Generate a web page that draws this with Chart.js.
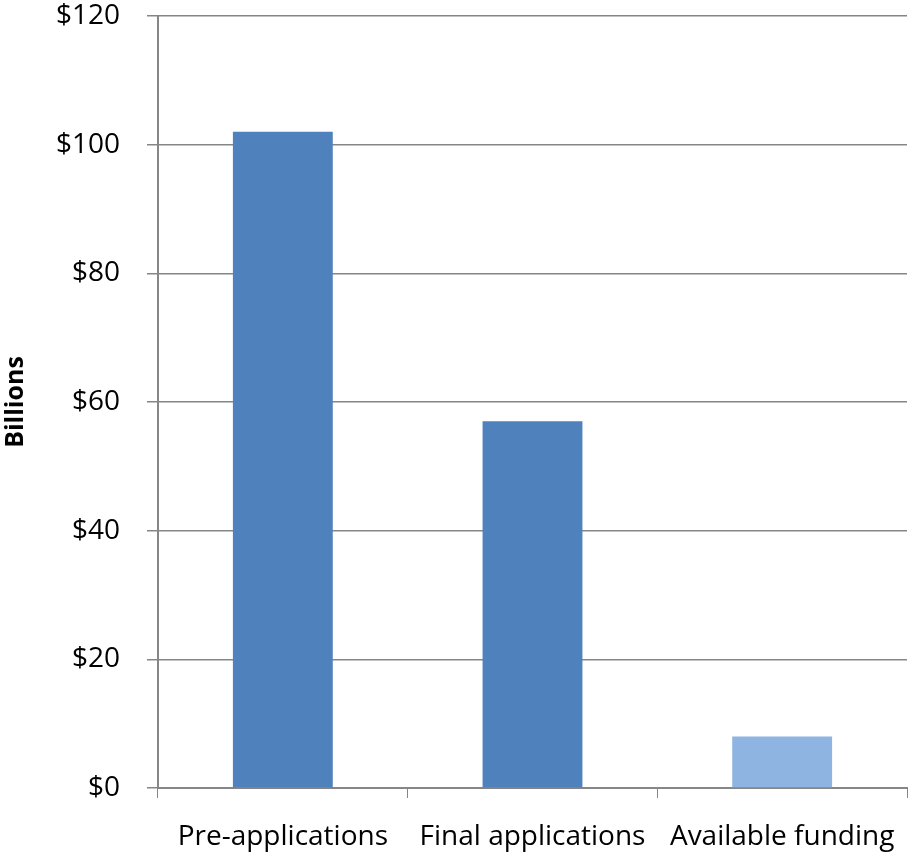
<!DOCTYPE html>
<html>
<head>
<meta charset="utf-8">
<script src="https://cdn.jsdelivr.net/npm/chart.js@4/dist/chart.umd.min.js"></script>
<style>
    html, body { margin: 0; padding: 0; background: #ffffff; }
    #wrap { width: 909px; height: 852px; }
</style>
</head>
<body>
<div id="wrap"><canvas id="fundingChart" width="909" height="852"></canvas></div>
<script>
// Chart data
const categories = ['Pre-applications', 'Final applications', 'Available funding'];
const amounts = [102, 57, 8];
const barColors = ['#4F81BD', '#4F81BD', '#8EB4E2'];
const yTicks = [0, 20, 40, 60, 80, 100, 120];

const axisGray = '#868686';

Chart.defaults.font.family = '"Open Sans", "Liberation Sans", sans-serif';
Chart.defaults.color = '#000000';

const ctx = document.getElementById('fundingChart').getContext('2d');
new Chart(ctx, {
    type: 'bar',
    data: {
        labels: categories,
        datasets: [{
            data: amounts,
            backgroundColor: barColors,
            borderWidth: 0,
            categoryPercentage: 1,
            barPercentage: 0.4
        }]
    },
    options: {
        responsive: false,
        animation: false,
        layout: {
            padding: { top: 16, right: 2, left: 0, bottom: 0 }
        },
        plugins: {
            legend: { display: false },
            tooltip: { enabled: false }
        },
        scales: {
            x: {
                offset: true,
                grid: {
                    offset: true,
                    drawOnChartArea: false,
                    drawTicks: true,
                    tickLength: 10,
                    color: axisGray
                },
                border: { color: axisGray, width: 2 },
                ticks: {
                    font: { size: 28 },
                    padding: 22,
                    maxRotation: 0,
                    minRotation: 0
                },
                afterFit: function(scale) {
                    scale.height = 64;
                    scale.paddingLeft = 0;
                    scale.paddingRight = 0;
                }
            },
            y: {
                min: yTicks[0],
                max: yTicks[yTicks.length - 1],
                afterBuildTicks: function(scale) {
                    scale.ticks = yTicks.map(v => ({ value: v }));
                },
                grid: {
                    color: axisGray,
                    lineWidth: 1.5,
                    tickLength: 11
                },
                border: { color: axisGray, width: 2 },
                ticks: {
                    font: { size: 28 },
                    padding: 27,
                    callback: function(value) {
                        return '$' + value;
                    }
                },
                title: {
                    display: true,
                    text: 'Billions',
                    font: { size: 25, weight: 'bold', lineHeight: 1.2 },
                    padding: { top: 1, bottom: 0 }
                },
                afterFit: function(scale) {
                    scale.width = 158;
                    scale.paddingTop = 0;
                    scale.paddingBottom = 0;
                }
            }
        }
    }
});
</script>
</body>
</html>
